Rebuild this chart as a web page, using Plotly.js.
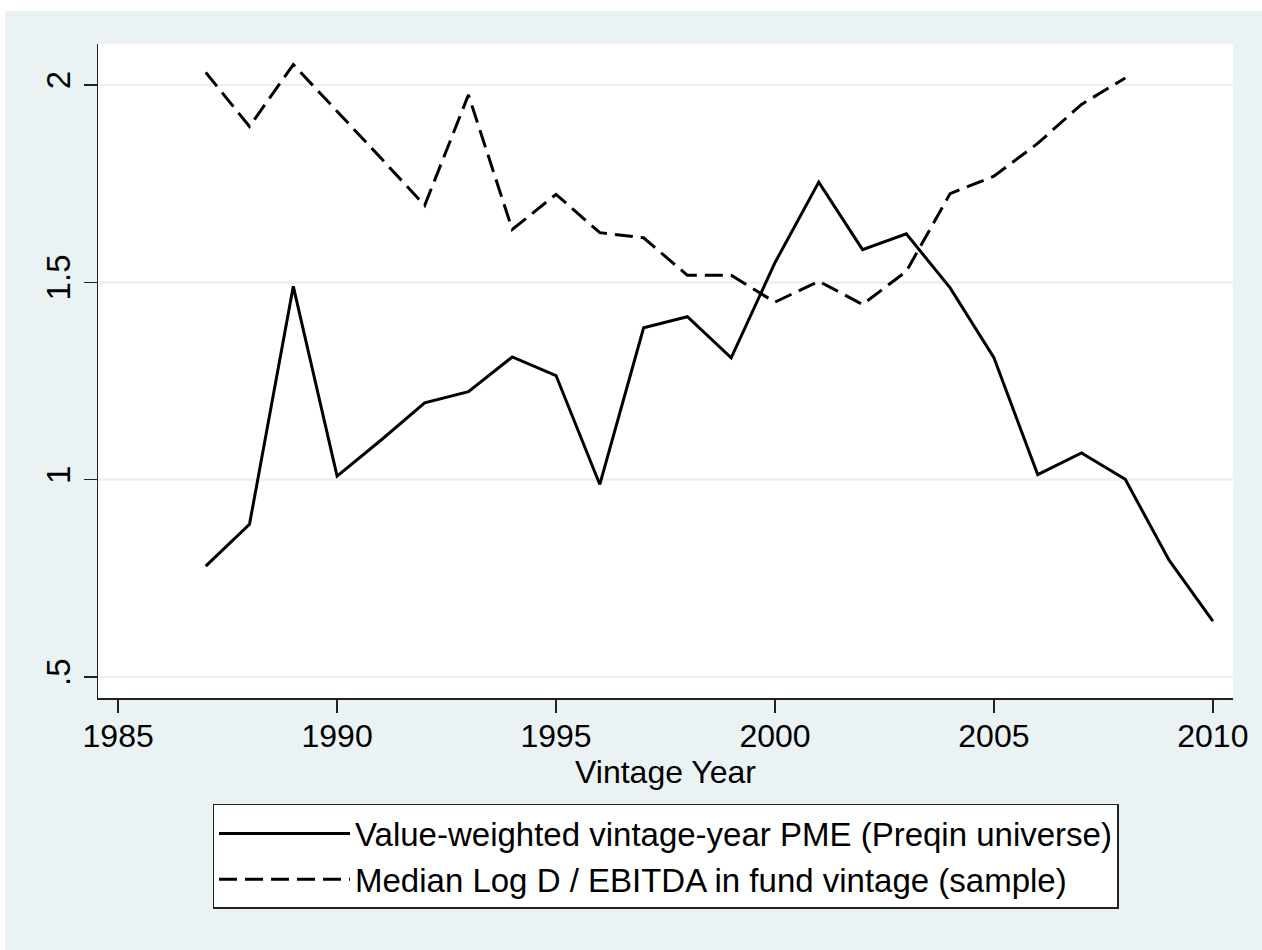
<!DOCTYPE html>
<html>
<head>
<meta charset="utf-8">
<script src="https://cdn.plot.ly/plotly-3.0.1.min.js"></script>
<style>
  html, body { margin: 0; padding: 0; background: #ffffff; }
  #chart { position: absolute; left: 5px; top: 11px; width: 1257px; height: 939px; }
</style>
</head>
<body>
<div id="chart"></div>
<script>
// Data
const pmeYears = [1987, 1988, 1989, 1990, 1991, 1992, 1993, 1994, 1995, 1996, 1997, 1998,
                  1999, 2000, 2001, 2002, 2003, 2004, 2005, 2006, 2007, 2008, 2009, 2010];
const pmeValues = [0.781, 0.887, 1.490, 1.009, 1.100, 1.195, 1.223, 1.311, 1.264, 0.988, 1.385, 1.413,
                   1.309, 1.550, 1.754, 1.583, 1.623, 1.486, 1.309, 1.013, 1.068, 1.001, 0.796, 0.642];

const debtYears = [1987, 1988, 1989, 1990, 1991, 1992, 1993, 1994, 1995, 1996, 1997,
                   1998, 1999, 2000, 2001, 2002, 2003, 2004, 2005, 2006, 2007, 2008];
const debtValues = [2.032, 1.895, 2.052, 1.934, 1.815, 1.695, 1.975, 1.634, 1.723, 1.626, 1.613,
                    1.518, 1.518, 1.450, 1.503, 1.444, 1.528, 1.725, 1.769, 1.852, 1.951, 2.018];

const seriesNames = ["Value-weighted vintage-year PME (Preqin universe)",
                     "Median Log D / EBITDA in fund vintage (sample)"];

const xTickVals = [1985, 1990, 1995, 2000, 2005, 2010];
const xTickText = ["1985", "1990", "1995", "2000", "2005", "2010"];
const yTickVals = [0.5, 1, 1.5, 2];
const yTickText = [".5", "1", "1.5", "2"];
const xAxisTitle = "Vintage Year";

const FONT = "Liberation Sans, Arial, Helvetica, sans-serif";
const GRAY = "#eaf2f3";

const traces = [
  {
    x: pmeYears, y: pmeValues, name: seriesNames[0],
    type: "scatter", mode: "lines",
    line: { color: "#000000", width: 3, dash: "solid" },
    hoverinfo: "skip"
  },
  {
    x: debtYears, y: debtValues, name: seriesNames[1],
    type: "scatter", mode: "lines",
    line: { color: "#000000", width: 3, dash: "18px,8px" },
    hoverinfo: "skip"
  }
];

const layout = {
  width: 1257, height: 939,
  paper_bgcolor: GRAY,
  plot_bgcolor: "#ffffff",
  margin: { l: 92.7, r: 28.7, t: 33.3, b: 251.7, pad: 0 },
  font: { family: FONT, size: 32, color: "#000000" },
  showlegend: true,
  xaxis: {
    range: [1984.54, 2010.46],
    tickvals: xTickVals, ticktext: xTickText,
    ticks: "outside", ticklen: 13, tickwidth: 1.5, tickcolor: "#222222",
    ticklabelstandoff: -4,
    showline: true, linecolor: "#222222", linewidth: 1.5,
    showgrid: false, zeroline: false,
    tickfont: { family: FONT, size: 32, color: "#000000" },
    title: { text: xAxisTitle, font: { family: FONT, size: 32, color: "#000000" }, standoff: 0 },
    automargin: false
  },
  yaxis: {
    range: [0.447, 2.104],
    tickvals: yTickVals, ticktext: yTickText,
    ticks: "outside", ticklen: 13, tickwidth: 1.5, tickcolor: "#222222",
    tickangle: -90,
    showline: true, linecolor: "#222222", linewidth: 1.5,
    showgrid: true, gridcolor: GRAY, gridwidth: 2.5,
    zeroline: false,
    tickfont: { family: FONT, size: 33, color: "#000000" },
    automargin: false
  },
  legend: {
    x: 0.5, xanchor: "center",
    y: -0.162, yanchor: "top",
    bgcolor: "#ffffff",
    bordercolor: "#222222", borderwidth: 1.5,
    font: { family: FONT, size: 33, color: "#000000" },
    itemwidth: 131,
    tracegroupgap: 0
  }
};

Plotly.newPlot("chart", traces, layout, { displayModeBar: false, staticPlot: true });
</script>
</body>
</html>
